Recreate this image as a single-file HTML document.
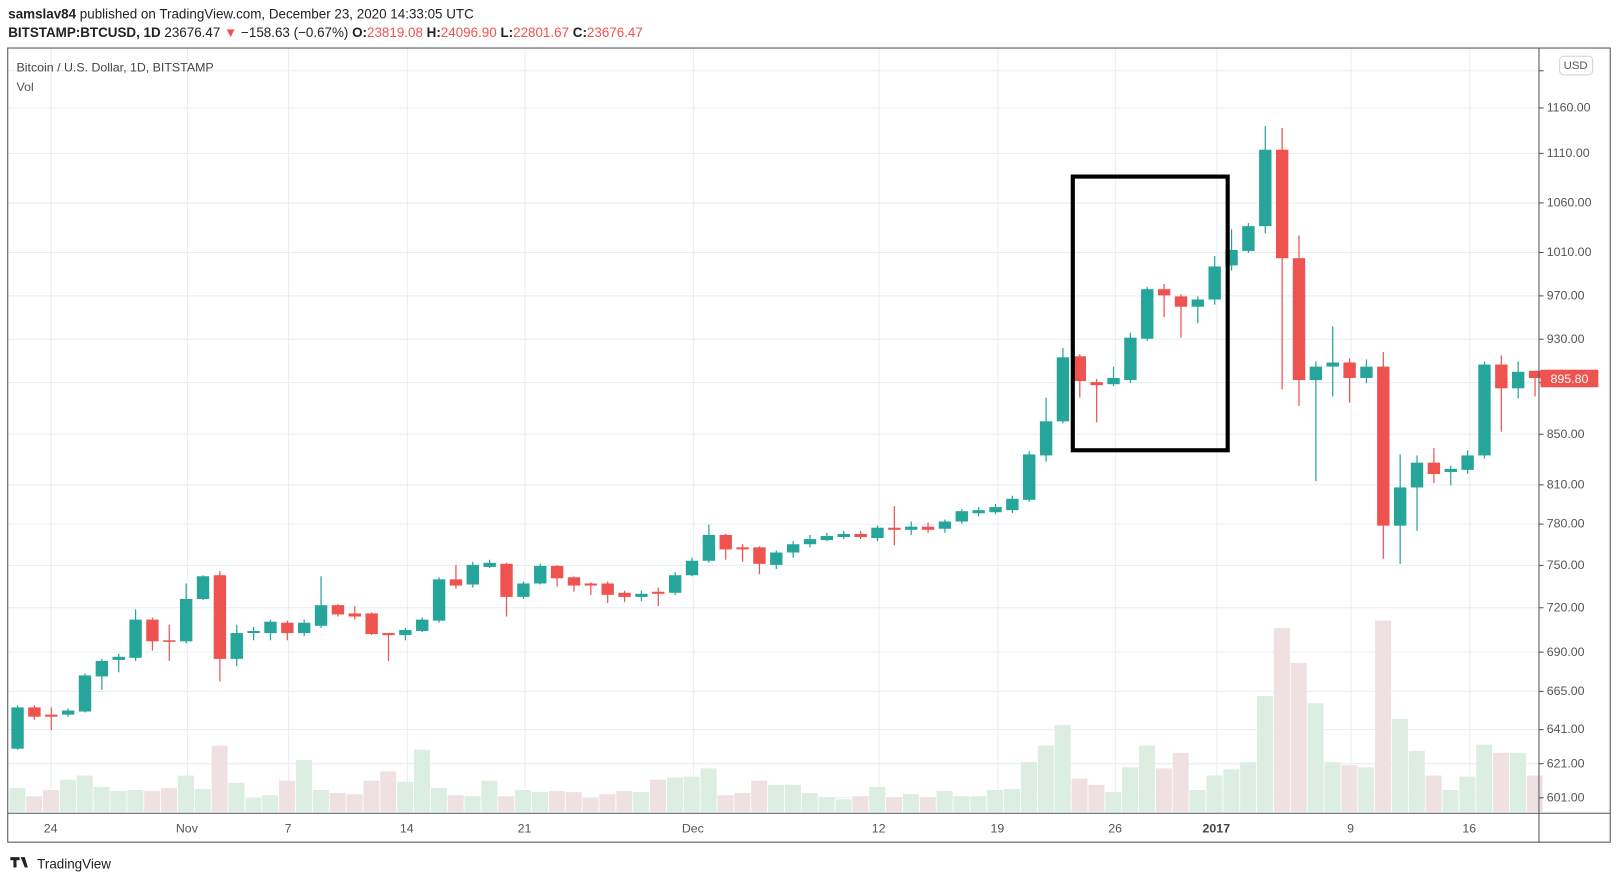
<!DOCTYPE html>
<html><head><meta charset="utf-8"><style>
html,body{margin:0;padding:0;background:#fff;width:1619px;height:884px;overflow:hidden}
svg{display:block;font-family:"Liberation Sans",sans-serif}
</style></head><body>
<svg id="s" width="1619" height="884" viewBox="0 0 1568 856" preserveAspectRatio="none" xmlns="http://www.w3.org/2000/svg">
<rect width="1568" height="856" fill="#fff"/>
<g id="grid" stroke="#e6eef3" stroke-width="1"></g>
<g id="vol"></g>
<g id="cand"></g>
<rect x="1039" y="171" width="150" height="265" fill="none" stroke="#000" stroke-width="4"/>
<!-- frame -->
<rect x="7.5" y="46.5" width="1552" height="769" fill="none" stroke="#50535e" stroke-width="1"/>
<line x1="1490.5" y1="46" x2="1490.5" y2="816" stroke="#50535e"/>
<line x1="7" y1="787.5" x2="1560" y2="787.5" stroke="#50535e"/>
<g id="ptext" font-size="12" fill="#555"></g>
<g font-size="12" fill="#555">
<text x="49" y="806" text-anchor="middle">24</text>
<text x="181" y="806" text-anchor="middle">Nov</text>
<text x="279" y="806" text-anchor="middle">7</text>
<text x="394" y="806" text-anchor="middle">14</text>
<text x="508" y="806" text-anchor="middle">21</text>
<text x="671" y="806" text-anchor="middle">Dec</text>
<text x="851" y="806" text-anchor="middle">12</text>
<text x="966" y="806" text-anchor="middle">19</text>
<text x="1080" y="806" text-anchor="middle">26</text>
<text x="1178" y="806" text-anchor="middle" font-weight="bold" fill="#444">2017</text>
<text x="1308" y="806" text-anchor="middle">9</text>
<text x="1423" y="806" text-anchor="middle">16</text>
</g>
<rect x="1510.5" y="54.5" width="32" height="18" rx="4" fill="#fff" stroke="#d0d3db"/>
<text x="1526" y="67" font-size="11" fill="#555" text-anchor="middle">USD</text>
<rect x="1492" y="358" width="56" height="17" fill="#ef5350"/>
<text x="1520" y="371" font-size="12" fill="#fff" text-anchor="middle">895.80</text>
<text x="8" y="18" font-size="13" fill="#222"><tspan font-weight="bold">samslav84</tspan> published on TradingView.com, December 23, 2020 14:33:05 UTC</text>
<text x="8" y="36" font-size="13" fill="#222"><tspan font-weight="bold">BITSTAMP:BTCUSD, 1D</tspan>  23676.47 <tspan fill="#ef5350">▼</tspan> −158.63 (−0.67%) <tspan font-weight="bold">O:</tspan><tspan fill="#ef5350">23819.08</tspan> <tspan font-weight="bold">H:</tspan><tspan fill="#ef5350">24096.90</tspan> <tspan font-weight="bold">L:</tspan><tspan fill="#ef5350">22801.67</tspan> <tspan font-weight="bold">C:</tspan><tspan fill="#ef5350">23676.47</tspan></text>
<text x="16" y="69" font-size="12" fill="#444">Bitcoin / U.S. Dollar, 1D, BITSTAMP</text>
<text x="16" y="88" font-size="12" fill="#555">Vol</text>
<path d="M10 830h9v3h-3v7h-3v-7h-3z M20 830h4l3 10h-3z" fill="#222"/>
<text x="36" y="841" font-size="13" fill="#222">TradingView</text>
</svg>
<script>
var NS="http://www.w3.org/2000/svg";
function el(p,t,a){var e=document.createElementNS(NS,t);for(var k in a)e.setAttribute(k,a[k]);document.getElementById(p).appendChild(e);return e;}
var pl=[["12\u00a0\u00a0.00",68],["1160.00",104],["1110.00",148],["1060.00",196],["1010.00",244],["970.00",286],["930.00",328],["890.00",370],["850.00",420],["810.00",469],["780.00",507],["750.00",547],["720.00",588],["690.00",631],["665.00",669],["641.00",706],["621.00",739],["601.00",772]];
pl.forEach(function(p){if(p[1]>60)el("grid","line",{x1:8,x2:1490,y1:p[1]+.5,y2:p[1]+.5});
 el("ptext","line",{x1:1490,x2:1495,y1:p[1]+.5,y2:p[1]+.5,stroke:"#50535e"});
 if(p[1]!=370&&p[1]!=68){var t=el("ptext","text",{x:1498,y:p[1]+4});t.textContent=p[0];}});
[49,181,279,394,508,671,851,966,1080,1178,1308,1423].forEach(function(x){el("grid","line",{x1:x+.5,x2:x+.5,y1:47,y2:787});});
var C=[["g",685,725,683,726],["r",685,694,683,697],["r",692,694,685,707],["g",688,692,686,694],["g",654,689,652,690],["g",640,655,638,668],["g",636,639,633,651],["g",600,637,590,640],["r",600,621,598,630],["r",620,621,605,640],["g",580,621,565,623],["g",558,580,557,581],["r",557,638,553,660],["g",613,638,605,645],["g",611,613,607,620],["g",602,613,600,620],["r",603,613,601,620],["g",603,613,600,616],["g",586,606,558,608],["r",586,595,585,597],["r",594,597,587,600],["r",594,614,593,615],["r",613,615,613,640],["g",610,615,608,620],["g",600,611,598,612],["g",561,601,559,603],["r",561,567,547,570],["g",547,566,544,569],["g",545,549,542,550],["r",546,578,545,597],["g",565,578,563,580],["g",548,565,546,566],["r",548,560,547,568],["r",559,567,558,573],["r",565,567,564,576],["r",565,576,563,584],["r",574,578,572,583],["g",575,578,572,582],["r",573,575,569,587],["g",557,574,554,576],["g",543,557,540,558],["g",518,543,508,545],["r",518,532,517,542],["r",530,532,527,544],["r",530,546,529,556],["g",535,547,533,551],["g",527,535,524,540],["g",522,527,518,530],["g",519,523,516,524],["g",517,520,514,522],["r",517,520,514,522],["g",511,521,509,524],["r",511,513,490,528],["g",510,513,505,518],["r",510,513,506,516],["g",505,512,503,516],["g",495,505,493,507],["g",494,497,491,500],["g",491,496,488,498],["g",483,494,480,497],["g",440,484,437,486],["g",408,441,385,447],["g",346,408,337,410],["r",345,369,343,385],["r",370,373,367,409],["g",366,372,355,374],["g",327,368,322,371],["g",280,328,278,330],["r",280,286,275,307],["r",287,297,285,327],["g",290,297,287,313],["g",258,290,248,295],["g",242,257,222,262],["g",219,243,216,245],["g",145,219,122,226],["r",145,250,124,377],["r",250,368,228,393],["g",355,368,350,466],["g",351,355,316,384],["r",351,366,347,390],["g",355,366,348,371],["r",355,509,341,541],["g",472,509,440,546],["g",448,472,441,514],["r",448,459,434,468],["g",454,457,451,470],["g",441,455,436,459],["g",353,441,350,444],["r",353,376,344,418],["g",360,376,350,386],["r",359,366,359,384]];
var V=[684,771,765,755,751,762,766,765,766,763,751,764,722,758,773,770,756,736,765,768,769,756,747,757,726,763,770,771,756,771,765,767,766,767,773,769,766,767,755,753,752,744,770,768,756,760,760,768,772,774,771,762,772,769,772,766,771,771,765,764,738,722,702,754,760,767,743,722,744,729,765,751,745,738,674,608,642,681,738,741,743,601,696,727,751,765,752,721,729,729,751];
V[0]=763;
C.forEach(function(c,i){var x=17+i*16.33;var col=c[0]=="g"?"#26a69a":"#ef5350";
 el("vol","rect",{x:x-8,y:V[i],width:15.5,height:786-V[i],fill:c[0]=="g"?"#dcede1":"#efe1e2"});
 el("cand","line",{x1:x,x2:x,y1:c[3],y2:c[4],stroke:col,"stroke-width":1.2});
 el("cand","rect",{x:x-6,y:c[1],width:12,height:Math.max(1.5,c[2]-c[1]),fill:col});});
</script>
</body></html>
